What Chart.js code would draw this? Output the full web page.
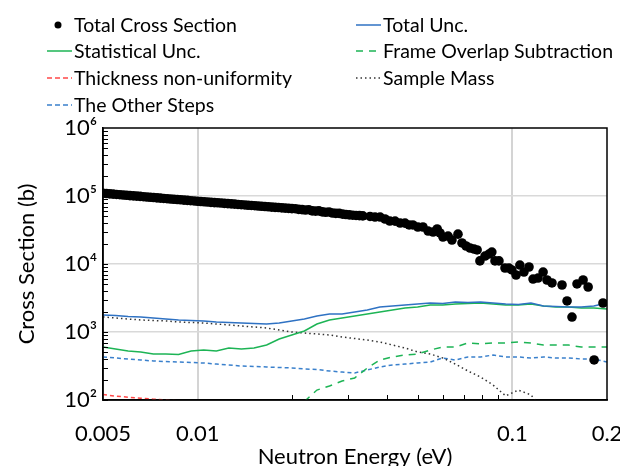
<!DOCTYPE html>
<html><head><meta charset="utf-8">
<script src="https://cdn.jsdelivr.net/npm/chart.js@4/dist/chart.umd.min.js"></script>
<style>html,body{margin:0;padding:0;background:#fff;} #wrap{width:620px;height:466px;position:relative;}</style>
</head><body><div id="wrap"><canvas id="c" width="620" height="466"></canvas></div>
<script>
// ---- data ----
const seriesNames = ['Total Cross Section','Total Unc.','Statistical Unc.','Frame Overlap Subtraction','Thickness non-uniformity','Sample Mass','The Other Steps'];

const totalEnergy = [0.005,0.005125,0.005253,0.005384,0.005519,0.005657,0.005798,0.005943,0.006092,0.006244,0.0064,0.00656,0.006724,0.006892,0.007065,0.007241,0.007422,0.007608,0.007798,0.007993,0.008193,0.008398,0.008608,0.008823,0.009044,0.00927,0.009501,0.009739,0.009982,0.01023,0.01049,0.01075,0.01102,0.0113,0.01158,0.01187,0.01216,0.01247,0.01278,0.0131,0.01343,0.01376,0.01411,0.01446,0.01482,0.01519,0.01557,0.01596,0.01636,0.01677,0.01719,0.01762,0.01806,0.01851,0.01897,0.01945,0.01993,0.02043,0.02094,0.02147,0.022,0.02255,0.02312,0.0237,0.02429,0.0249,0.02552,0.02616,0.02681,0.02748,0.02817,0.02887,0.02959,0.03033,0.03109,0.03187,0.03267,0.03348,
0.0353,0.0366,0.0380,0.0394,0.0408,0.0424,0.0440,0.0456,0.0470,0.0483,0.0501,0.0520,0.0540,0.0560,0.0577,0.0589,0.0602,0.0625,0.0643,0.0672,0.0692,0.0713,0.0734,0.0756,0.0773,0.0789,0.0819,0.0843,0.0861,0.0881,0.0907,0.0948,0.0976,0.0997,0.1028,0.1057,0.1089,0.1130,0.1164,0.1207,0.1253,0.1289,0.1337,0.1439,0.1493,0.1548,0.1606,0.1679,0.1742,0.1820,0.1942];
const totalCross = [109600,108600,107400,106700,105400,104500,103500,102600,101400,100500,99540,98630,97720,96610,95720,94840,93970,93110,92040,91200,90360,89540,88720,87900,86900,86100,85310,84530,83750,82990,82220,81470,80720,79980,79430,78700,77980,77270,76560,75860,75160,74470,73790,73110,72610,71940,71290,70630,69980,69340,68710,68080,67610,66990,66370,65770,65160,65100,63680,62950,62090,62900,60530,59840,60500,58340,57680,58300,56230,55590,55500,54200,53460,52840,52240,51760,51400,51050,
50000,49100,49000,45900,42900,42700,40100,39900,37500,37500,35000,35000,30500,29500,32700,28600,24900,25700,22500,27500,20400,18400,17200,16600,16100,11100,13100,14000,15000,11100,11100,8730,8700,8170,6890,9660,7620,9030,6010,6220,7620,5820,5260,4910,2860,1660,5090,5820,4590,388,2670];

const uncEnergy = [0.005,0.00548,0.00601,0.00659,0.00723,0.00792,0.00869,0.00953,0.01045,0.01146,0.01256,0.01377,0.0151,0.01656,0.01816,0.01991,0.02183,0.02393,0.02624,0.02877,0.03155,0.03459,0.03793,0.04159,0.0456,0.05,0.05483,0.06012,0.06592,0.07228,0.07925,0.0869,0.09528,0.1045,0.1146,0.1256,0.1377,0.151,0.1656,0.1816,0.2];
const totalUnc = [1778,1750,1692,1663,1607,1553,1501,1476,1452,1403,1380,1356,1334,1312,1356,1452,1553,1718,1841,1841,1968,2108,2333,2412,2494,2581,2668,2624,2760,2715,2760,2668,2581,2537,2668,2412,2371,2333,2333,2412,2668];
const statUnc = [601,562,525,508,475,475,467,525,543,525,582,562,582,644,789,904,1035,1312,1501,1607,1718,1841,1968,2108,2256,2333,2494,2494,2581,2624,2668,2581,2494,2494,2581,2412,2333,2333,2256,2256,2178];
const frameOverlap = [null,null,null,null,null,null,null,null,null,null,null,null,null,null,null,null,95,140,161,190,211,295,387,429,459,475,543,601,601,689,667,689,689,713,689,644,644,644,601,601,601];
const thickness = [120,114,110,106,103,100,97,null,null,null,null,null,null,null,null,null,null,null,null,null,null,null,null,null,null,null,null,null,null,null,null,null,null,null,null,null,null,null,null,null,null];
const sampleMass = [1663,1607,1553,1501,1476,1452,1403,1380,1356,1312,1268,1225,1185,1145,1069,1000,966,935,904,844,802,762,713,644,582,508,475,415,338,267,218,166,115,140,119,71,null,null,null,null,null];
const otherSteps = [429,415,401,387,375,368,362,356,350,338,327,316,311,306,301,296,286,281,267,258,250,276,306,327,338,350,362,415,387,429,429,459,429,429,415,429,415,415,401,401,362];

const xTickValues = [0.005, 0.01, 0.1, 0.2];
const xTickLabels = ['0.005', '0.01', '0.1', '0.2'];
const yTickValues = [1e2, 1e3, 1e4, 1e5, 1e6];
const yTickLabels = ['10²', '10³', '10⁴', '10⁵', '10⁶'];

// ---- helpers ----
const pts = (xs, ys) => xs.map((x, i) => ({x: x, y: ys[i]}));
const FONT = 'Lato, "DejaVu Sans", sans-serif';
Chart.defaults.font.family = FONT;
Chart.defaults.color = '#000';

const legendPlugin = {
  id: 'gridLegend',
  afterDraw(chart) {
    const ctx = chart.ctx;
    const cols = [47, 356];
    const rows = [25, 51, 78, 105];
    ctx.save();
    ctx.font = '19.5px ' + FONT;
    ctx.textBaseline = 'middle';
    chart.data.datasets.forEach((ds, i) => {
      const x = cols[i % 2], y = rows[Math.floor(i / 2)];
      if (ds.showLine === false) {
        ctx.fillStyle = ds.backgroundColor;
        ctx.beginPath(); ctx.arc(x + 11, y, 3.5, 0, Math.PI * 2); ctx.fill();
      } else {
        ctx.strokeStyle = ds.borderColor; ctx.lineWidth = 1.5;
        ctx.setLineDash(ds.legendDash || []);
        ctx.beginPath(); ctx.moveTo(x, y); ctx.lineTo(x + 25, y); ctx.stroke();
        ctx.setLineDash([]);
      }
      ctx.fillStyle = '#000';
      ctx.fillText(ds.label, x + 27, y + 1);
    });
    ctx.restore();
  }
};

const frameTicks = {
  id: 'frameTicks',
  afterDraw(chart) {
    const {ctx, chartArea: a, scales: {x, y}} = chart;
    ctx.save();
    ctx.strokeStyle = '#000'; ctx.lineWidth = 1;
    for (let p = 2; p < 6; p++) {
      for (let m = 1; m < 10; m++) {
        const py = Math.round(y.getPixelForValue(m * Math.pow(10, p))) + 0.5;
        ctx.beginPath(); ctx.moveTo(a.left, py); ctx.lineTo(a.left + 5, py); ctx.stroke();
      }
    }
    for (let m = 2; m < 10; m++) {
      const px = Math.round(x.getPixelForValue(m / 100)) + 0.5;
      ctx.beginPath(); ctx.moveTo(px, a.bottom); ctx.lineTo(px, a.bottom - 5); ctx.stroke();
    }
    ctx.lineWidth = 1.5;
    ctx.strokeRect(a.left, a.top, a.right - a.left, a.bottom - a.top);
    ctx.restore();
  }
};

const lineDs = (label, xs, ys, color, dash, legendDash) => ({
  label, data: pts(xs, ys), showLine: true, borderColor: color, backgroundColor: color,
  borderWidth: 1.5, borderDash: dash, legendDash: legendDash, pointRadius: 0, spanGaps: false, tension: 0
});

new Chart(document.getElementById('c'), {
  type: 'scatter',
  data: {
    datasets: [
      { label: seriesNames[0], data: pts(totalEnergy, totalCross), showLine: false,
        pointRadius: 4.8, pointBorderWidth: 0, backgroundColor: '#000', borderColor: '#000' },
      lineDs(seriesNames[1], uncEnergy, totalUnc, '#2f72c3', [], []),
      lineDs(seriesNames[2], uncEnergy, statUnc, '#1db455', [], []),
      lineDs(seriesNames[3], uncEnergy, frameOverlap, '#1db455', [7, 6], [7, 6]),
      lineDs(seriesNames[4], uncEnergy, thickness, '#ff4848', [4, 3], [5, 3]),
      lineDs(seriesNames[5], uncEnergy, sampleMass, '#333333', [1.5, 3], [1.5, 3]),
      lineDs(seriesNames[6], uncEnergy, otherSteps, '#3a80cc', [4, 3], [5, 3])
    ]
  },
  options: {
    responsive: false, animation: false, devicePixelRatio: 1, events: [],
    layout: { padding: { top: 128, right: 13, left: 0, bottom: 0 } },
    plugins: { legend: { display: false }, tooltip: { enabled: false } },
    scales: {
      x: {
        type: 'logarithmic', min: 0.005, max: 0.2,
        afterBuildTicks: s => { s.ticks = xTickValues.map(v => ({value: v})); },
        ticks: { autoSkip: false, maxRotation: 0, padding: 21, color: '#000', font: { size: 22 },
                 callback: (v, i) => xTickLabels[i] },
        grid: { color: c => (c.index === 1 || c.index === 2) ? '#d4d4d4' : 'rgba(0,0,0,0)', lineWidth: 2, drawTicks: false },
        border: { color: '#000', width: 1.5 },
        title: { display: true, text: 'Neutron Energy (eV)', color: '#000', font: { size: 22 }, padding: { top: 0, bottom: -4 } },
        afterFit: s => { s.height = 66; s.paddingLeft = 0; s.paddingRight = 0; }
      },
      y: {
        type: 'logarithmic', min: 100, max: 1e6,
        afterBuildTicks: s => { s.ticks = yTickValues.map(v => ({value: v})); },
        ticks: { padding: 6, color: '#000', font: { size: 22 }, callback: (v, i) => yTickLabels[i] },
        grid: { color: c => (c.index > 0 && c.index < 4) ? '#d9d9d9' : 'rgba(0,0,0,0)', lineWidth: 1.5, drawTicks: false },
        border: { color: '#000', width: 1.5 },
        title: { display: true, text: 'Cross Section (b)', color: '#000', font: { size: 22 }, padding: { top: 14, bottom: 0 } },
        afterFit: s => { s.width = 103; s.paddingTop = 0; s.paddingBottom = 0; }
      }
    }
  },
  plugins: [legendPlugin, frameTicks]
});
</script>
</body></html>
